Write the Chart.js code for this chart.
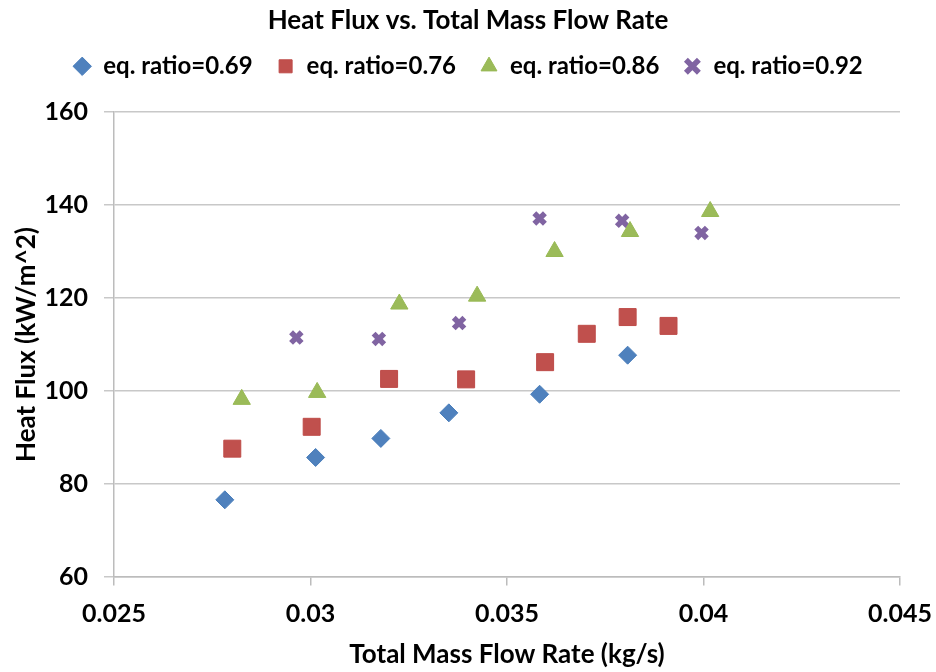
<!DOCTYPE html>
<html>
<head>
<meta charset="utf-8">
<script src="https://cdn.jsdelivr.net/npm/chart.js@4.4.0/dist/chart.umd.min.js"></script>
<style>
  html, body { margin: 0; padding: 0; background: #fff; }
</style>
</head>
<body>
<canvas id="graficoFlujo" width="936" height="672"></canvas>
<script>
// datos
const etiquetas = ['eq. ratio=0.69', 'eq. ratio=0.76', 'eq. ratio=0.86', 'eq. ratio=0.92'];
const flujo069 = [0.02782, 0.03013, 0.03179, 0.03352, 0.03583, 0.03807];
const calor069 = [76.6, 85.7, 89.8, 95.3, 99.3, 107.7];
const flujo076 = [0.02801, 0.03003, 0.0320, 0.03396, 0.03597, 0.03703, 0.03807, 0.03911];
const calor076 = [87.6, 92.3, 102.6, 102.5, 106.2, 112.3, 115.9, 114.0];
const flujo086 = [0.02825, 0.03017, 0.03226, 0.03424, 0.03621, 0.03813, 0.04017];
const calor086 = [98.2, 99.7, 118.7, 120.4, 130.0, 134.3, 138.6];
const flujo092 = [0.02964, 0.03174, 0.03378, 0.03583, 0.03793, 0.03995];
const calor092 = [111.5, 111.2, 114.6, 137.1, 136.6, 134.0];
const ticksX = [0.025, 0.03, 0.035, 0.04, 0.045];
const ticksY = [60, 80, 100, 120, 140, 160];

const fuente = "'Lato', 'Open Sans', sans-serif";

const puntos = (xs, ys) => xs.map((x, i) => ({ x: x, y: ys[i] }));

// espacio extra debajo de la leyenda
const espacioLeyenda = {
  id: 'espacioLeyenda',
  beforeInit(chart) {
    const fitOriginal = chart.legend.fit;
    chart.legend.fit = function fit() {
      fitOriginal.bind(chart.legend)();
      this.height += 23.7;
    };
  }
};

const ctx = document.getElementById('graficoFlujo').getContext('2d');
const grafico = new Chart(ctx, {
  type: 'scatter',
  data: {
    datasets: [
      {
        label: etiquetas[0],
        data: puntos(flujo069, calor069),
        pointStyle: 'rectRot',
        pointRadius: 9,
        backgroundColor: '#4F81BD',
        borderColor: '#4A7EBB',
        borderWidth: 1,
      },
      {
        label: etiquetas[1],
        data: puntos(flujo076, calor076),
        pointStyle: 'rect',
        pointRadius: 12,
        backgroundColor: '#C0504D',
        borderColor: '#BE4B48',
        borderWidth: 1,
      },
      {
        label: etiquetas[2],
        data: puntos(flujo086, calor086),
        pointStyle: 'triangle',
        pointRadius: 10,
        backgroundColor: '#9BBB59',
        borderColor: '#98B954',
        borderWidth: 1,
      },
      {
        label: etiquetas[3],
        data: puntos(flujo092, calor092),
        pointStyle: 'crossRot',
        pointRadius: 7.5,
        backgroundColor: '#8064A2',
        borderColor: '#8064A2',
        borderWidth: 5.5,
      },
    ],
  },
  options: {
    responsive: false,
    animation: false,
    layout: { padding: { top: 0, left: 36, right: 36, bottom: 0 } },
    plugins: {
      title: {
        display: true,
        text: 'Heat Flux vs. Total Mass Flow Rate',
        color: '#000',
        font: { family: fuente, size: 26, weight: 'bold' },
        padding: { top: 5.4, bottom: -6.3 },
      },
      legend: {
        display: true,
        position: 'top',
        labels: {
          usePointStyle: true,
          boxWidth: 18,
          boxHeight: 13,
          padding: 24,
          color: '#000',
          font: { family: fuente, size: 24, weight: 'bold' },
        },
      },
      tooltip: { enabled: false },
    },
    scales: {
      x: {
        type: 'linear',
        min: ticksX[0],
        max: ticksX[ticksX.length - 1],
        afterFit: (s) => { s.height = 95; },
        afterBuildTicks: (s) => { s.ticks = ticksX.map((v) => ({ value: v })); },
        ticks: {
          autoSkip: false,
          padding: 0,
          color: '#000',
          font: { family: fuente, size: 25, weight: 'bold' },
          callback: (v) => Number(v.toFixed(3)).toString(),
        },
        grid: {
          drawOnChartArea: false,
          drawTicks: true,
          tickLength: 22,
          tickBorderDash: [8, 60],
          color: '#bcbcbc',
          lineWidth: 1.5,
        },
        border: { display: true, color: '#bcbcbc', width: 1.5 },
        title: {
          display: true,
          text: 'Total Mass Flow Rate (kg/s)',
          color: '#000',
          font: { family: fuente, size: 26, weight: 'bold' },
          padding: { top: 0, bottom: 2 },
        },
      },
      y: {
        min: ticksY[0],
        max: ticksY[ticksY.length - 1],
        afterFit: (s) => { s.width = 78; },
        afterBuildTicks: (s) => { s.ticks = ticksY.map((v) => ({ value: v })); },
        ticks: {
          autoSkip: false,
          padding: 16,
          color: '#000',
          font: { family: fuente, size: 25, weight: 'bold' },
        },
        grid: {
          drawOnChartArea: true,
          drawTicks: true,
          tickLength: 10,
          color: '#c8c8c8',
          lineWidth: 1.5,
        },
        border: { display: true, color: '#bcbcbc', width: 1.5 },
        title: {
          display: true,
          text: 'Heat Flux (kW/m^2)',
          color: '#000',
          font: { family: fuente, size: 26, weight: 'bold' },
          padding: { top: -24.6, bottom: 0 },
        },
      },
    },
  },
  plugins: [espacioLeyenda],
});
</script>
</body>
</html>
